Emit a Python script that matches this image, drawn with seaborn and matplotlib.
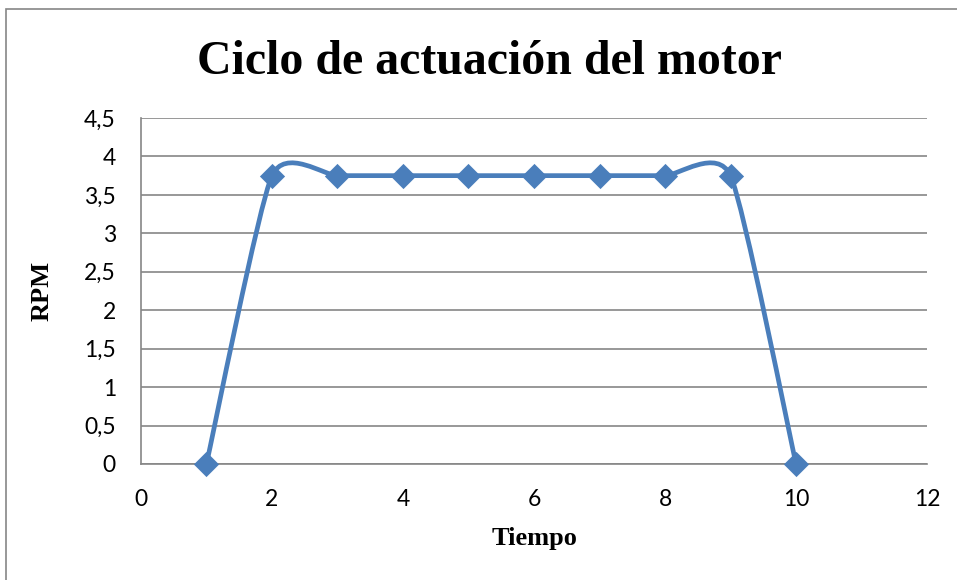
import numpy as np
import pandas as pd
import matplotlib
matplotlib.use('Agg')
import matplotlib.pyplot as plt
import seaborn as sns
from matplotlib.path import Path
from matplotlib.patches import PathPatch, Rectangle

# data
tiempo = [1, 2, 3, 4, 5, 6, 7, 8, 9, 10]
rpm = [0, 3.75, 3.75, 3.75, 3.75, 3.75, 3.75, 3.75, 3.75, 0]
x_ticks = [0, 2, 4, 6, 8, 10, 12]
y_ticks = [0, 0.5, 1, 1.5, 2, 2.5, 3, 3.5, 4, 4.5]
y_tick_labels = ['0', '0,5', '1', '1,5', '2', '2,5', '3', '3,5', '4', '4,5']

df = pd.DataFrame({'Tiempo': tiempo, 'RPM': rpm})

sns.set_style('white')
plt.rcParams['font.family'] = ['Lato', 'DejaVu Sans']
plt.rcParams['text.color'] = 'black'

blue = '#4A7EBB'
grey = '#868686'

fig = plt.figure(figsize=(9.57, 5.8), dpi=100)
ax = fig.add_axes([0.1473, 0.2, 0.8214, 0.5966])

#smoothed line like the spreadsheet: bezier segments through the points
pts = df[['Tiempo', 'RPM']].to_numpy(dtype=float)
k = 0.1
verts = [pts[0]]
codes = [Path.MOVETO]
for i in range(len(pts) - 1):
    p0 = pts[i - 1] if i > 0 else pts[i]
    p1 = pts[i]
    p2 = pts[i + 1]
    p3 = pts[i + 2] if i + 2 < len(pts) else pts[i + 1]
    verts += [p1 + (p2 - p0) * k, p2 - (p3 - p1) * k, p2]
    codes += [Path.CURVE4] * 3
ax.add_patch(PathPatch(Path(verts, codes), facecolor='none', edgecolor=blue,
                       lw=3.4, capstyle='round', joinstyle='round', zorder=3))

sns.scatterplot(data=df, x='Tiempo', y='RPM', marker='D', s=165, color=blue,
                edgecolor=blue, linewidth=0, ax=ax, zorder=4, clip_on=False)

ax.set_xlim(0, 12)
ax.set_ylim(0, 4.5)
ax.set_xticks(x_ticks)
ax.set_yticks(y_ticks)
ax.set_yticklabels(y_tick_labels)
ax.yaxis.grid(True, color=grey, lw=1.2)
ax.set_axisbelow(True)
for s in ['top', 'right']:
    ax.spines[s].set_visible(False)
for s in ['left', 'bottom']:
    ax.spines[s].set_color(grey)
    ax.spines[s].set_linewidth(1.2)
ax.tick_params(axis='both', length=0, labelsize=16.5, pad=18, colors='black')

ax.set_xlabel('Tiempo', family='Liberation Serif', fontweight='bold', fontsize=19,
              labelpad=12, color='black')
ax.set_ylabel('RPM', family='Liberation Serif', fontweight='bold', fontsize=19,
              labelpad=22, color='black')
fig.text(0.512, 0.893, 'Ciclo de actuación del motor', ha='center', va='center',
         family='Liberation Serif', fontweight='bold', fontsize=34.5, color='black')

#outer chart border
fig.patches.append(Rectangle((6 / 957, -0.1), 1.1, 1.1 - 9 / 580, transform=fig.transFigure,
                             fill=False, edgecolor=grey, lw=1.2))

fig.savefig('out.png', dpi=100)
